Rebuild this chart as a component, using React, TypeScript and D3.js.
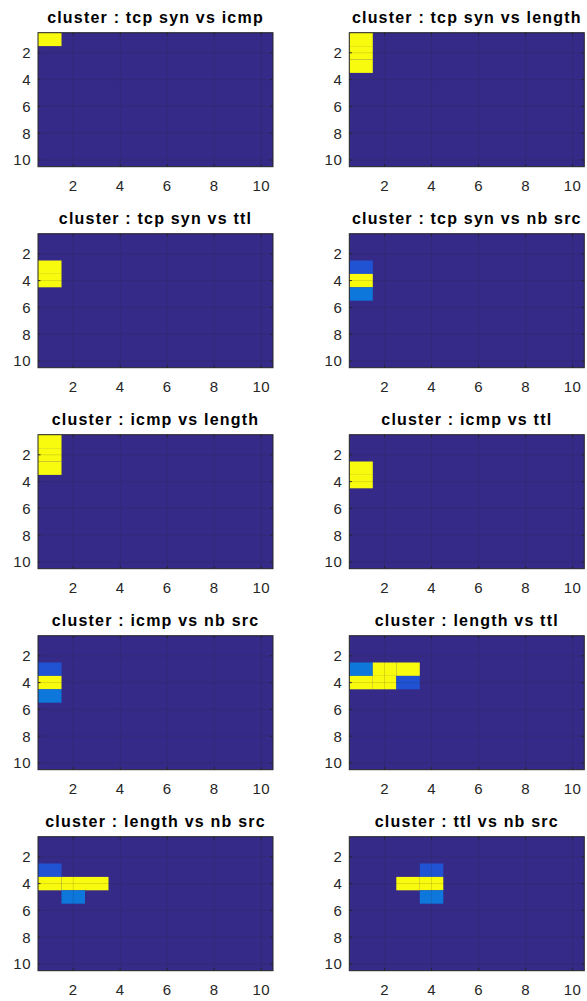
import { useEffect, useRef } from 'react';
import * as d3 from 'd3';

// subplot titles, row by row
const titles = [
  'cluster : tcp syn vs icmp',
  'cluster : tcp syn vs length',
  'cluster : tcp syn vs ttl',
  'cluster : tcp syn vs nb src',
  'cluster : icmp vs length',
  'cluster : icmp vs ttl',
  'cluster : icmp vs nb src',
  'cluster : length vs ttl',
  'cluster : length vs nb src',
  'cluster : ttl vs nb src'
];

// non-zero cells of each 10x10 matrix: [row, col, value]
const cells: number[][][] = [
  [[1, 1, 10]],
  [[1, 1, 10], [2, 1, 10], [3, 1, 10]],
  [[3, 1, 10], [4, 1, 10]],
  [[3, 1, 1], [4, 1, 10], [5, 1, 2]],
  [[1, 1, 10], [2, 1, 10], [3, 1, 10]],
  [[3, 1, 10], [4, 1, 10]],
  [[3, 1, 1], [4, 1, 10], [5, 1, 2]],
  [[3, 1, 2], [3, 2, 10], [3, 3, 10], [4, 1, 10], [4, 2, 10], [4, 3, 1]],
  [[3, 1, 1], [4, 1, 10], [4, 2, 10], [4, 3, 10], [5, 2, 2]],
  [[3, 4, 1], [4, 3, 10], [4, 4, 10], [5, 4, 2]]
];

const gridSize = 10;
const tickValues = [2, 4, 6, 8, 10];

// parula-like colormap stops
const parulaStops = [0, 0.1, 0.2, 0.3, 0.4, 0.5, 0.6, 0.7, 0.8, 0.9, 1];
const parulaColors = ['#352a87', '#2053d4', '#0d77db', '#0a8ed3', '#06a4ca', '#33b8a1',
  '#71bf80', '#c2bc5d', '#fcbc3d', '#f5dc2a', '#f9fb0e'];

export default function App() {
  const svgRef = useRef<SVGSVGElement>(null);

  useEffect(() => {
    const svg = d3.select(svgRef.current);
    svg.selectAll('*').remove();

    const width = 587;
    const height = 1001;
    svg.attr('width', width).attr('height', height);

    const plotW = 235;
    const plotH = 134;
    const lefts = [38, 349.3];
    const top0 = 32.7;
    const rowStep = 201;
    const axisColor = '#262626';
    const font = '"Liberation Sans", Arial, Helvetica, sans-serif';

    const color = d3.scaleLinear<string>()
      .domain(parulaStops)
      .range(parulaColors)
      .interpolate(d3.interpolateRgb);

    titles.forEach((title, i) => {
      const left = lefts[i % 2];
      const top = top0 + rowStep * Math.floor(i / 2);

      const x = d3.scaleLinear().domain([0.5, gridSize + 0.5]).range([0, plotW]);
      const y = d3.scaleLinear().domain([0.5, gridSize + 0.5]).range([0, plotH]);

      const g = svg.append('g').attr('transform', `translate(${left},${top})`);

      const vmax = d3.max(cells[i], d => d[2]) || 1;

      g.append('rect')
        .attr('width', plotW)
        .attr('height', plotH)
        .attr('fill', color(0));

      g.selectAll('rect.cell')
        .data(cells[i])
        .enter()
        .append('rect')
        .attr('class', 'cell')
        .attr('x', d => x(d[1] - 0.5))
        .attr('y', d => y(d[0] - 0.5))
        .attr('width', d => x(d[1] + 0.5) - x(d[1] - 0.5))
        .attr('height', d => y(d[0] + 0.5) - y(d[0] - 0.5))
        .attr('fill', d => color(d[2] / vmax));

      // grid on top of the image
      tickValues.forEach(t => {
        g.append('line')
          .attr('x1', x(t)).attr('x2', x(t))
          .attr('y1', 0).attr('y2', plotH)
          .attr('stroke', axisColor)
          .attr('stroke-opacity', 0.15);
        g.append('line')
          .attr('x1', 0).attr('x2', plotW)
          .attr('y1', y(t)).attr('y2', y(t))
          .attr('stroke', axisColor)
          .attr('stroke-opacity', 0.15);
      });

      // inward ticks on all sides
      const tl = 2.5;
      tickValues.forEach(t => {
        g.append('line').attr('x1', x(t)).attr('x2', x(t)).attr('y1', plotH).attr('y2', plotH - tl).attr('stroke', axisColor);
        g.append('line').attr('x1', x(t)).attr('x2', x(t)).attr('y1', 0).attr('y2', tl).attr('stroke', axisColor);
        g.append('line').attr('x1', 0).attr('x2', tl).attr('y1', y(t)).attr('y2', y(t)).attr('stroke', axisColor);
        g.append('line').attr('x1', plotW).attr('x2', plotW - tl).attr('y1', y(t)).attr('y2', y(t)).attr('stroke', axisColor);

        g.append('text')
          .attr('x', x(t))
          .attr('y', plotH + 24)
          .attr('text-anchor', 'middle')
          .attr('fill', axisColor)
          .style('font-family', font)
          .style('font-size', '15px')
          .style('letter-spacing', '0.5px')
          .text(t);

        g.append('text')
          .attr('x', -7)
          .attr('y', y(t))
          .attr('dy', '0.36em')
          .attr('text-anchor', 'end')
          .attr('fill', axisColor)
          .style('font-family', font)
          .style('font-size', '15px')
          .style('letter-spacing', '0.5px')
          .text(t);
      });

      g.append('rect')
        .attr('width', plotW)
        .attr('height', plotH)
        .attr('fill', 'none')
        .attr('stroke', axisColor)
        .attr('stroke-width', 1);

      g.append('text')
        .attr('x', plotW / 2)
        .attr('y', -10)
        .attr('text-anchor', 'middle')
        .attr('fill', '#000')
        .style('font-family', font)
        .style('font-size', '16px')
        .style('font-weight', 'bold')
        .style('letter-spacing', '1.2px')
        .text(title);
    });
  }, []);

  return <svg ref={svgRef} style={{ position: 'absolute', left: 0, top: 0 }}></svg>;
}
